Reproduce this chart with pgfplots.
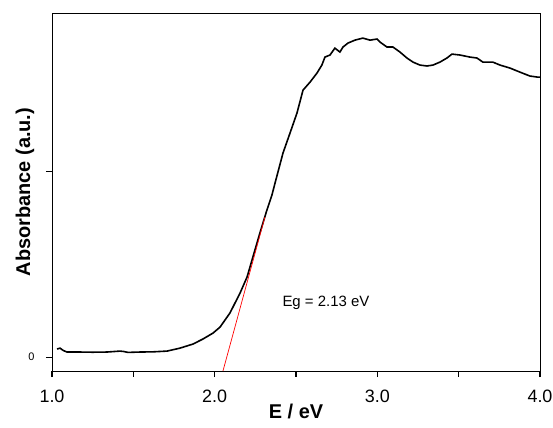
\documentclass[border=0pt]{standalone}
\usepackage{fontspec}
\setmainfont{Liberation Sans}
\usepackage{pgfplots}
\pgfplotsset{compat=1.18}
\usetikzlibrary{calc}
\begin{document}
\begin{tikzpicture}
\begin{axis}[
  scale only axis,
  width=488bp, height=358bp,
  xmin=1, xmax=4, ymin=-0.075, ymax=1.85,
  clip=false,
  axis line style={line width=0.9bp},
  xtick={1,2,3,4},
  ytick={0,1}, yticklabels={0,{}},
  tick align=outside,
  tick pos=left,
  major tick length=6bp,
  every tick/.append style={black, line width=1.1bp},
  /pgf/number format/assume math mode=true,
  /pgf/number format/fixed,
  /pgf/number format/fixed zerofill,
  /pgf/number format/precision=1,
  xticklabel style={font=\fontsize{18}{18}\selectfont, yshift=-9bp},
  yticklabel style={font=\fontsize{11}{11}\selectfont, xshift=-8bp},
  xlabel={E / eV},
  ylabel={Absorbance (a.u.)},
  xlabel style={font=\bfseries\fontsize{20}{20}\selectfont, at={(axis description cs:0.5,0)}, anchor=center, yshift=-40bp},
  ylabel style={font=\bfseries\fontsize{20}{20}\selectfont, at={(axis description cs:0,0.5)}, anchor=center, rotate=0, yshift=27bp},
]
% tick marks on the bottom axis (major and minor), in axis units
\pgfplotsinvokeforeach{1,1.5,2,2.5,3,3.5,4}{
  \draw[black, line width=1.2bp] (axis cs:#1,-0.075) -- (axis cs:#1,-0.108);
}
\addplot[black, line width=1.6bp] coordinates {
(1.031,0.043) (1.049,0.048) (1.070,0.035) (1.092,0.027) (1.172,0.027) (1.250,0.026)
(1.338,0.027) (1.418,0.032) (1.440,0.030) (1.467,0.025) (1.541,0.027) (1.620,0.028)
(1.707,0.032) (1.787,0.048) (1.867,0.070) (1.928,0.097) (1.990,0.129) (2.033,0.161)
(2.094,0.237) (2.156,0.344) (2.199,0.430) (2.235,0.538) (2.278,0.667) (2.321,0.790)
(2.352,0.871) (2.371,0.935) (2.420,1.097) (2.463,1.204) (2.506,1.312) (2.543,1.435)
(2.586,1.478) (2.629,1.527) (2.659,1.570) (2.678,1.613) (2.709,1.624) (2.739,1.661)
(2.770,1.640) (2.789,1.667) (2.819,1.688) (2.862,1.704) (2.911,1.715) (2.955,1.704)
(2.998,1.710) (3.016,1.694) (3.059,1.667) (3.096,1.667) (3.139,1.640) (3.182,1.608)
(3.219,1.586) (3.262,1.570) (3.305,1.565) (3.342,1.570) (3.385,1.586) (3.428,1.608)
(3.459,1.629) (3.508,1.624) (3.569,1.613) (3.612,1.608) (3.649,1.586) (3.710,1.586)
(3.754,1.570) (3.815,1.554) (3.877,1.532) (3.938,1.511) (3.987,1.505) (4.000,1.505)
};
\addplot[red, line width=0.7bp] coordinates {(2.051,-0.075) (2.309,0.753)};
\node[font=\fontsize{15}{15}\selectfont] at (axis cs:2.684,0.290) {Eg = 2.13 eV};
\end{axis}
\pgfresetboundingbox
\path ($(current axis.south west)+(-52bp,-57bp)$) rectangle ($(current axis.north east)+(13bp,13bp)$);
\end{tikzpicture}
\end{document}
